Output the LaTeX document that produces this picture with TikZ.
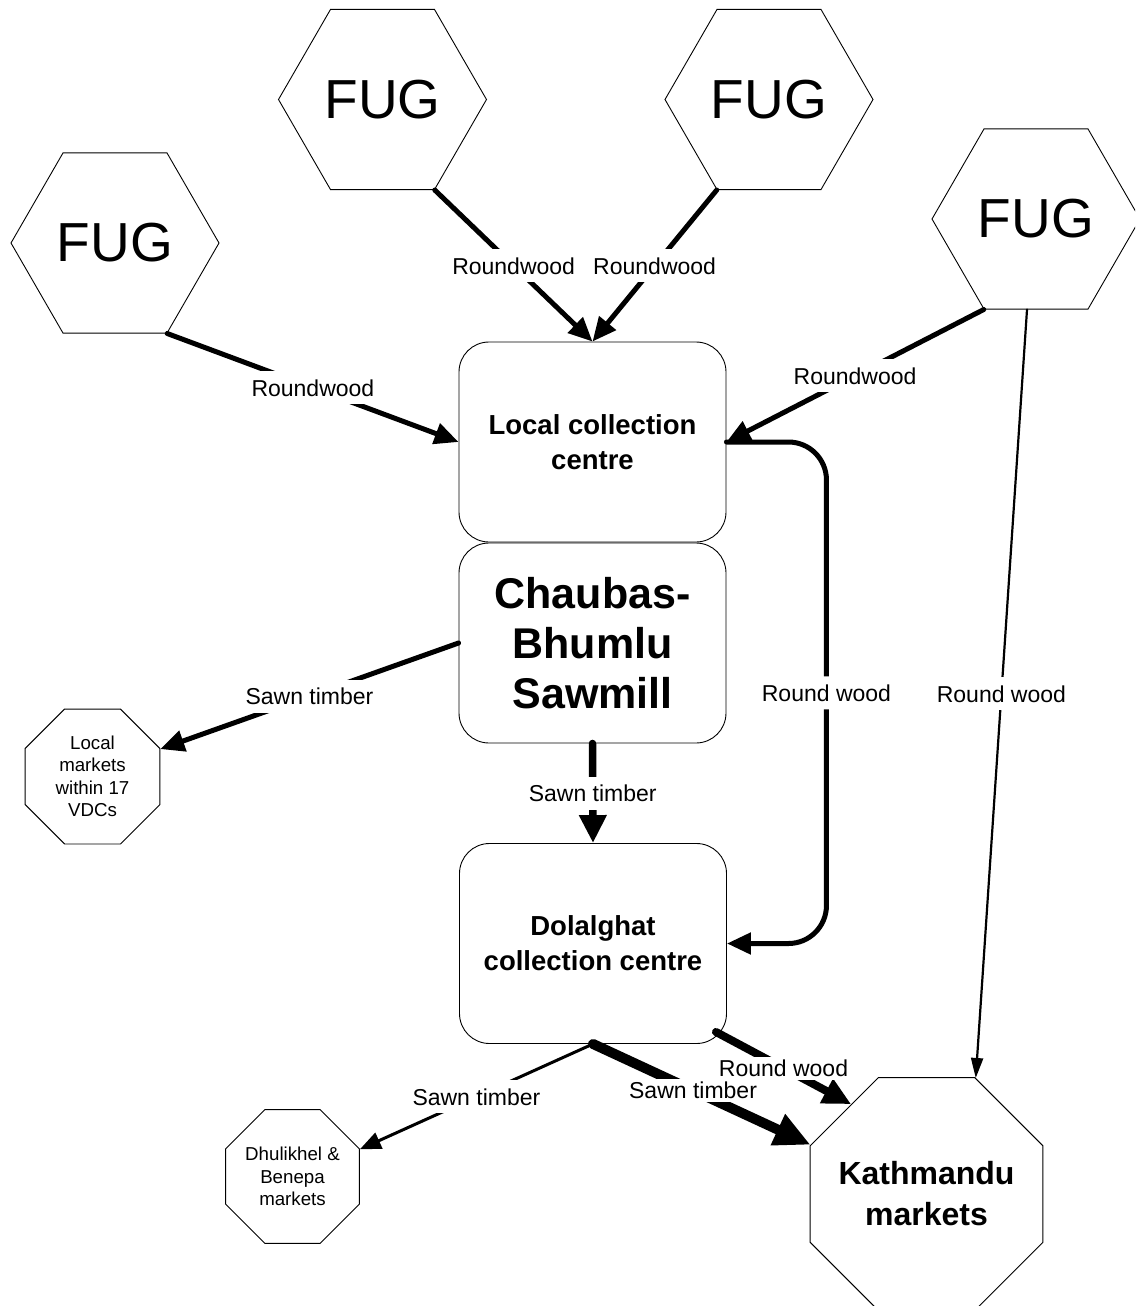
\documentclass[tikz,border=0pt]{standalone}
\usepackage{fontspec}
\setmainfont{Liberation Sans}
\usetikzlibrary{shapes.geometric,arrows.meta,calc}
\begin{document}
\begin{tikzpicture}[x=1pt,y=-1pt,
  hex/.style={regular polygon, regular polygon sides=6, draw, line width=0.9pt, minimum size=208pt, inner sep=0pt, font=\fontsize{55}{60}\selectfont},
  oct/.style={regular polygon, regular polygon sides=8, draw, line width=0.9pt, inner sep=0pt, align=center},
  box/.style={draw, rounded corners=30pt, line width=0.9pt, minimum width=267pt, minimum height=200pt, align=center, inner sep=0pt},
  boxfont/.style={font=\bfseries\fontsize{27.5}{35}\selectfont},
  lbl/.style={fill=white, inner xsep=3pt, inner ysep=8pt, text height=17pt, text depth=0pt, font=\fontsize{23}{27}\selectfont},
  tight/.style={inner ysep=3pt},
  flow/.style={draw, line cap=round, line join=round},
  wA/.style={flow, line width=5pt, -{Triangle[length=24pt,width=21pt]}},
  wB/.style={flow, line width=7.5pt, -{Triangle[length=28pt,width=26pt]}},
  wC/.style={flow, line width=3pt, -{Triangle[length=21pt,width=17pt]}},
  wD/.style={flow, line width=10pt, -{Triangle[length=36pt,width=32pt]}},
  wE/.style={flow, line width=8pt, -{Triangle[length=28pt,width=26pt]}},
  wT/.style={flow, line width=2.2pt, -{Triangle[length=20pt,width=12pt]}}
]
\useasboundingbox (0,0) rectangle (1135,1306);
\clip (0,0) rectangle (1135,1306);

% FUG hexagons
\node[hex] (fug1) at (115,243) {FUG};
\node[hex] (fug2) at (382.5,99.5) {FUG};
\node[hex] (fug3) at (769,99.5) {FUG};
\node[hex] (fug4) at (1036,219) {FUG};

% boxes
\node[box, boxfont] (local) at (592.5,442) {Local collection\\centre};
\node[box, font=\bfseries\fontsize{43}{50}\selectfont] (saw) at (592.5,643) {Chaubas-\\Bhumlu\\Sawmill};
\node[box, boxfont] (dol) at (593,943.5) {Dolalghat\\collection centre};

% markets
\node[oct, minimum size=146pt, font=\fontsize{18.7}{22.5}\selectfont] (lm) at (92.5,776.5) {Local\\markets\\within 17\\VDCs};
\node[oct, minimum size=144pt, font=\fontsize{18.7}{22.5}\selectfont] (dh) at (292.5,1176.5) {Dhulikhel \&\\Benepa\\markets};
\node[oct, minimum size=252pt, inner sep=-12pt, font=\bfseries\fontsize{32}{41}\selectfont] (kath) at (926.5,1194) {Kathmandu\\markets};

% connectors
\draw[wA] (fug1.300) -- node[lbl]{Roundwood} (local.west);
\draw[wA] (fug2.300) -- node[lbl]{Roundwood} (local.north);
\draw[wA] (fug3.240) -- node[lbl]{Roundwood} (local.north);
\draw[wA] (fug4.240) -- node[lbl]{Roundwood} (local.east);
\draw[wA, rounded corners=38pt] (local.east) -- ++(100,0) |- node[lbl,pos=0.25]{Round wood} (dol.east);
\draw[wT] ($(fug4.south)+(-9,0)$) -- node[lbl]{Round wood} (kath.67.5);
\draw[wA] (saw.west) -- node[lbl]{Sawn timber} (lm.22.5);
\draw[wB] (saw.south) -- node[lbl]{Sawn timber} (dol.north);
\draw[wC] (dol.south) -- node[lbl]{Sawn timber} (dh.22.5);
\draw[wE] ($(dol.south east)+(-11,-12)$) -- node[lbl,tight]{Round wood} (kath.130);
\draw[wD] (dol.south) -- node[lbl,tight,pos=0.46]{Sawn timber} (kath.157.5);
\end{tikzpicture}
\end{document}
